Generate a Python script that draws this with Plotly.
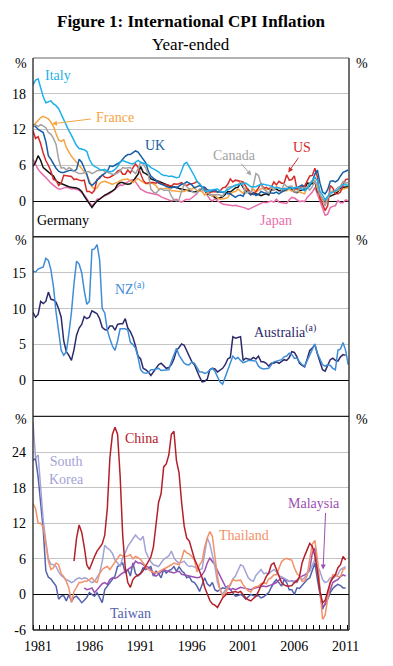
import plotly.graph_objects as go

# ---------------- data (quarterly, year-ended % change) ----------------
STEP = 0.25
START_MAIN = 1981.0

italy = [19.5, 20.3,
 20.5, 19.0, 17.5, 16.5, 16.6, 16.8, 16.3, 16.0, 15.5, 14.5, 13.5, 12.8,
 11.8, 11.0, 10.0, 9.3, 8.8, 8.7, 8.6, 8.3, 7.0, 6.2, 5.8, 5.6,
 5.3, 5.2, 5.3, 5.0, 4.9, 5.0, 5.3, 5.8, 6.5, 6.8, 6.6, 6.5,
 6.3, 6.2, 6.5, 6.8, 6.5, 6.4, 6.2, 6.0, 5.6, 5.4, 5.2, 4.9,
 4.5, 4.3, 4.3, 4.1, 4.2, 4.0, 3.9, 4.0, 5.2, 6.2, 6.5, 5.8,
 5.0, 4.2, 3.3, 2.8, 2.4, 1.7, 1.6, 1.8, 1.9, 2.0, 2.0, 1.7,
 1.5, 1.6, 1.9, 2.1, 2.5, 2.7, 2.7, 2.8, 2.9, 3.0, 2.7, 2.4,
 2.4, 2.4, 2.6, 2.8, 2.8, 2.7, 2.7, 2.5, 2.3, 2.3, 2.2, 2.0,
 2.0, 2.1, 2.1, 2.2, 2.3, 2.3, 2.2, 1.9, 1.7, 2.1, 2.9, 3.4,
 4.0, 3.4, 1.6, 1.0, 0.2, 0.8, 1.3, 1.5, 1.7, 1.9, 2.4, 2.8,
 2.7, 2.7]

france = [12.6, 13.0,
 13.5, 14.0, 14.2, 14.0, 13.8, 13.2, 12.5, 11.3, 10.2, 10.0, 10.3, 9.0,
 8.2, 7.5, 7.0, 6.5, 6.0, 5.5, 5.0, 4.4, 3.4, 2.4, 2.0, 2.2,
 2.9, 3.2, 3.3, 3.1, 2.9, 2.8, 3.0, 3.1, 3.4, 3.6, 3.6, 3.7,
 3.4, 3.1, 3.5, 3.8, 3.4, 3.2, 2.9, 2.9, 3.0, 2.9, 2.6, 2.0,
 2.1, 2.0, 2.2, 2.1, 1.7, 1.7, 1.6, 1.6, 1.6, 1.6, 1.8, 2.0,
 2.0, 2.3, 1.7, 1.7, 1.6, 1.0, 1.4, 1.2, 0.8, 1.0, 0.5, 0.3,
 0.3, 0.4, 0.6, 1.2, 1.5, 1.6, 2.0, 1.7, 1.3, 2.1, 1.6, 1.3,
 2.0, 1.5, 1.8, 2.0, 2.3, 1.8, 2.0, 2.3, 1.9, 2.4, 2.2, 2.1,
 1.7, 1.7, 2.0, 1.6, 1.8, 2.0, 1.5, 1.4, 1.2, 2.3, 3.0, 3.4,
 3.5, 2.0, 0.7, 0.1, -0.5, 0.4, 1.2, 1.7, 1.6, 1.8, 1.9, 2.1,
 2.1, 2.2]

uk = [12.8, 12.5,
 12.0, 11.7, 11.5, 10.0, 7.6, 7.0, 6.2, 5.5, 5.0, 4.8, 4.8, 5.0,
 5.1, 5.2, 5.0, 5.3, 7.0, 6.5, 5.5, 4.5, 3.0, 2.6, 3.0, 3.5,
 4.0, 4.3, 4.6, 5.0, 5.9, 5.8, 6.0, 6.2, 6.5, 7.0, 7.5, 7.8,
 7.8, 8.1, 8.4, 8.2, 7.6, 6.8, 6.4, 5.0, 4.2, 3.8, 3.5, 3.0,
 2.8, 2.6, 2.4, 2.3, 2.2, 2.4, 2.2, 2.5, 2.8, 2.9, 3.2, 3.0,
 2.7, 2.2, 2.4, 2.6, 2.4, 2.3, 1.9, 1.7, 1.6, 1.9, 1.5, 1.5,
 1.5, 1.4, 1.2, 1.2, 0.9, 0.6, 0.9, 1.0, 0.8, 1.7, 1.4, 1.0,
 1.4, 0.9, 1.1, 1.6, 1.4, 1.3, 1.4, 1.3, 1.3, 1.5, 1.2, 1.5,
 1.7, 1.9, 2.4, 2.1, 2.0, 2.2, 2.5, 2.7, 1.9, 2.1, 2.5, 3.3,
 4.5, 5.2, 3.0, 1.5, 1.2, 1.9, 3.3, 3.4, 3.2, 3.5, 4.2, 4.8,
 5.0, 5.2]

canada = [12.5, 12.8,
 12.5, 12.8, 12.6, 12.3, 11.5, 11.2, 10.5, 9.5, 7.0, 5.5, 5.6, 5.2,
 5.6, 5.4, 5.0, 4.8, 4.6, 4.6, 4.8, 4.9, 4.9, 4.6, 4.8, 5.1,
 5.1, 5.2, 5.0, 4.8, 4.7, 4.5, 4.5, 4.7, 5.1, 5.6, 5.5, 5.5,
 5.6, 5.0, 4.6, 5.4, 6.5, 6.2, 5.5, 4.5, 2.0, 1.5, 1.3, 1.8,
 2.1, 1.8, 1.8, 1.8, 0.8, 0.2, 0.0, 0.2, 1.7, 2.8, 2.4, 2.0,
 1.6, 1.4, 1.4, 2.0, 2.0, 1.6, 1.7, 1.0, 1.1, 1.0, 1.1, 1.0,
 0.8, 1.6, 2.3, 2.4, 2.4, 2.5, 2.8, 3.2, 2.6, 1.3, 1.5, 1.5,
 2.6, 4.6, 4.3, 2.8, 2.0, 1.6, 1.3, 2.4, 1.8, 2.3, 2.2, 1.8,
 2.9, 2.4, 2.5, 2.5, 1.5, 1.5, 2.0, 2.2, 2.2, 2.4, 1.8, 2.4,
 3.4, 2.6, 1.1, 0.4, -0.8, 0.5, 1.6, 1.4, 1.8, 2.3, 2.5, 3.3,
 3.0, 3.1]

us = [11.8, 10.5, 10.8, 9.6, 8.0, 6.8, 6.0, 5.0, 3.6, 3.5, 2.6, 3.0,
 4.3, 4.2, 4.2, 4.1, 3.6, 3.7, 3.5, 3.4, 3.5, 1.6, 1.6, 1.3,
 1.8, 3.6, 3.8, 4.4, 4.0, 3.9, 4.0, 4.2, 4.5, 5.0, 5.2, 4.5,
 4.5, 5.2, 4.7, 5.6, 6.2, 5.7, 4.7, 3.5, 3.0, 3.1, 3.1, 3.1,
 3.0, 3.2, 2.9, 2.8, 2.7, 2.5, 2.5, 2.9, 2.8, 2.9, 3.1, 2.7,
 2.6, 2.8, 2.9, 3.0, 3.3, 2.9, 2.3, 2.2, 1.8, 1.4, 1.6, 1.6,
 1.5, 1.7, 2.2, 2.3, 2.8, 3.7, 3.2, 3.5, 3.4, 3.3, 3.2, 2.5,
 1.9, 1.1, 1.2, 1.6, 2.2, 3.0, 2.1, 2.3, 2.0, 2.3, 3.2, 2.7,
 3.3, 3.0, 3.0, 4.4, 3.5, 3.6, 4.2, 2.0, 2.0, 2.6, 2.5, 3.5,
 4.2, 4.3, 5.5, 4.0, 0.5, -0.5, -1.6, -0.8, 2.6, 2.2, 1.2, 1.2,
 1.5, 2.7, 3.6, 3.7]

germany = [5.8, 6.5, 7.6, 6.8, 5.6, 5.2, 4.8, 4.5, 4.2, 3.4, 3.1, 2.9,
 2.8, 2.6, 2.4, 2.3, 2.3, 2.2, 2.0, 1.6, 0.8, 0.2, -0.5, -1.1,
 -0.5, 0.0, 0.3, 0.7, 1.0, 1.2, 1.4, 1.7, 2.0, 2.8, 3.1, 3.1,
 2.9, 2.8, 2.9, 3.3, 3.9, 4.5, 5.8, 4.8, 4.6, 4.3, 3.7, 3.5,
 3.4, 3.3, 3.1, 3.0, 2.8, 2.6, 2.4, 2.3, 2.3, 2.1, 2.0, 1.8,
 1.7, 1.6, 1.5, 1.5, 1.6, 1.8, 2.0, 1.8, 1.2, 1.1, 0.8, 0.6,
 0.4, 0.6, 0.7, 1.1, 1.6, 1.5, 1.9, 2.2, 2.3, 3.0, 2.3, 1.6,
 1.9, 1.2, 1.1, 1.2, 1.1, 0.9, 1.1, 1.2, 1.0, 1.9, 1.9, 2.0,
 1.7, 1.7, 2.1, 2.1, 2.0, 2.0, 1.5, 1.4, 1.7, 1.8, 2.0, 3.0,
 3.0, 2.9, 3.2, 1.6, 0.9, 0.2, -0.3, 0.6, 0.8, 1.0, 1.2, 1.6,
 2.1, 2.3, 2.4, 2.4]

japan = [7.0, 6.0, 5.3, 4.8, 4.4, 3.9, 3.5, 3.0, 2.6, 2.3, 2.0, 2.0,
 2.2, 2.3, 2.2, 2.0, 2.1, 2.0, 1.8, 1.4, 1.0, 0.4, -0.2, -0.8,
 -0.4, 0.3, 0.4, 0.6, 0.8, 1.0, 1.3, 1.6, 2.0, 2.3, 2.7, 2.6,
 3.0, 3.2, 3.5, 3.6, 3.2, 2.6, 2.0, 1.8, 1.5, 1.4, 1.3, 1.2,
 1.1, 1.0, 0.7, 0.5, 0.4, 0.2, 0.0, 0.2, 0.3, 0.0, -0.2, 0.1,
 0.3, 0.2, 0.5, 0.8, 1.2, 2.0, 2.1, 2.1, 1.0, 0.3, 0.0, 0.4,
 0.0, -0.3, -0.5, -0.6, -0.7, -0.7, -0.8, -0.7, -0.8, -0.9, -1.1, -1.2,
 -1.4, -1.2, -0.9, -0.7, -0.5, -0.4, -0.2, -0.3, -0.1, 0.0, -0.2, 0.3,
 -0.2, -0.3, -0.4, -0.4, 0.2, 0.6, 0.5, 0.2, -0.1, 0.0, -0.1, 0.6,
 1.0, 1.5, 2.3, 1.2, -0.1, -1.1, -2.4, -2.2, -1.1, -0.9, -0.8, 0.1,
 -0.3, -0.3, 0.2, 0.0]

nz = [15.2, 15.1, 15.5, 15.7, 15.8, 17.0, 16.7, 15.4, 13.0, 9.5, 7.0, 4.2,
 3.5, 4.0, 6.5, 9.5, 13.5, 16.6, 16.2, 15.0, 12.5, 10.6, 11.0, 18.2,
 18.3, 18.9, 16.8, 10.0, 9.4, 7.0, 5.8, 4.8, 4.2, 5.5, 7.2, 7.2,
 7.2, 7.0, 5.3, 5.0, 4.5, 3.2, 1.5, 1.1, 1.0, 1.1, 1.5, 1.5,
 1.6, 1.7, 1.4, 1.4, 1.5, 1.5, 2.6, 3.7, 4.5, 3.5, 3.0, 2.4,
 2.2, 2.2, 2.6, 2.4, 1.8, 1.2, 1.2, 1.0, 1.1, 1.5, 1.7, 1.3,
 0.5, -0.2, -0.5, 0.5, 1.7, 2.5, 3.4, 3.0, 3.2, 2.8, 2.5, 2.6,
 2.8, 2.8, 2.7, 2.7, 2.0, 1.7, 1.6, 1.7, 1.7, 2.2, 2.6, 2.7,
 2.8, 2.9, 3.3, 3.4, 3.8, 3.6, 3.1, 3.1, 2.6, 2.2, 2.0, 2.8,
 3.5, 4.2, 5.1, 3.8, 3.0, 2.2, 2.0, 2.2, 2.1, 1.7, 1.5, 4.2,
 4.4, 5.3, 4.2, 2.2]

australia = [9.5, 8.8, 9.2, 11.0, 10.7, 11.0, 12.3, 11.3, 11.2, 10.9, 10.0, 8.8,
 5.5, 4.0, 3.5, 2.8, 4.3, 6.3, 7.3, 7.8, 8.9, 8.6, 8.8, 9.7,
 9.5, 9.3, 8.6, 7.4, 7.1, 7.0, 7.6, 7.6, 7.0, 7.8, 7.9, 7.9,
 8.6, 7.3, 6.8, 6.0, 4.8, 3.4, 3.0, 1.7, 1.5, 1.2, 0.7, 1.2,
 1.7, 2.2, 2.4, 2.0, 1.7, 1.8, 2.2, 3.0, 4.2, 4.6, 5.1, 4.9,
 4.2, 3.3, 2.6, 2.2, 1.2, 0.5, -0.2, -0.1, 0.2, 1.5, 1.7, 1.6,
 1.2, 1.5, 1.7, 2.2, 3.0, 3.2, 6.1, 5.9, 6.0, 6.1, 2.8, 3.1,
 3.0, 2.9, 3.2, 3.0, 3.4, 2.6, 2.6, 2.4, 2.0, 2.4, 2.4, 2.6,
 2.4, 2.6, 2.9, 2.8, 3.2, 4.0, 3.9, 3.3, 2.4, 2.1, 1.9, 3.0,
 4.2, 4.5, 5.0, 3.7, 2.5, 1.5, 1.3, 2.1, 2.9, 3.1, 2.8, 2.7,
 3.3, 3.6, 3.5]

START_CHINA = 1985.0
china = [5.6, 9.5, 11.7, 10.5, 8.0, 5.0, 4.2, 5.5, 6.4, 7.3, 8.0, 8.5,
 10.0, 14.5, 23.0, 27.0, 28.2, 27.0, 20.0, 10.0, 4.5, 2.0, 1.2, 2.5,
 3.0, 3.3, 3.5, 4.0, 4.7, 5.6, 6.3, 8.0, 11.5, 15.5, 17.0, 21.5,
 22.0, 23.5, 27.0, 27.5, 22.5, 20.5, 15.5, 11.5, 9.5, 9.0, 7.5, 6.0,
 5.0, 4.0, 2.8, 1.2, 0.0, -1.0, -1.6, -1.8, -2.2, -1.5, -0.6, -0.2,
 0.3, 0.3, 0.4, 0.5, 0.3, 0.5, 0.0, -0.6, -0.9, -1.1, -0.7, -0.3,
 0.5, 1.5, 2.0, 3.0, 3.6, 5.0, 5.3, 4.2, 3.3, 2.0, 1.6, 1.4,
 1.4, 1.5, 2.0, 2.2, 3.0, 5.3, 6.5, 7.5, 8.6, 8.1, 6.5, 4.0,
 0.5, -1.4, -1.0, 0.5, 2.0, 2.8, 3.3, 4.5, 5.0, 6.4, 5.8]

south_korea = [29.0, 23.0, 23.5, 18.0, 12.5, 9.0, 6.0, 5.1, 5.0, 4.7, 3.8, 3.2,
 2.8, 2.5, 2.3, 2.0, 2.2, 2.6, 2.8, 2.6, 2.8, 2.7, 2.3, 2.0,
 2.2, 3.0, 3.6, 5.5, 8.3, 7.8, 7.5, 6.9, 5.8, 5.3, 4.7, 6.2,
 7.0, 8.1, 8.8, 9.5, 10.0, 9.5, 9.2, 9.8, 7.2, 6.3, 5.5, 5.0,
 4.8, 4.7, 5.3, 5.9, 6.2, 6.5, 7.3, 6.2, 5.6, 5.3, 5.4, 5.6,
 5.0, 4.7, 4.8, 4.6, 4.4, 4.2, 4.3, 7.0, 9.5, 8.5, 6.5, 4.7,
 2.0, 0.8, 0.0, 0.8, 1.4, 1.5, 2.6, 3.1, 4.2, 5.0, 4.8, 3.9,
 2.8, 2.4, 2.2, 3.2, 3.8, 4.2, 3.5, 3.6, 3.5, 3.8, 4.2, 3.8,
 3.1, 3.0, 2.8, 2.5, 2.2, 2.2, 2.0, 2.0, 2.8, 2.5, 2.8, 3.6,
 3.9, 5.0, 5.9, 4.8, 3.9, 2.5, 2.0, 2.2, 2.8, 2.7, 3.1, 3.4,
 4.2, 4.4, 4.7]

thailand = [15.3, 14.5, 12.0, 12.0, 11.4, 8.6, 5.6, 4.2, 4.5, 5.3, 5.0, 3.5,
 3.0, 2.2, 1.1, -1.4, 0.5, 1.2, 2.0, 2.0, 2.2, 2.2, 2.5, 2.8,
 2.2, 2.0, 3.5, 4.2, 4.5, 4.7, 4.2, 4.8, 5.3, 6.0, 6.7, 6.5,
 6.4, 6.5, 6.7, 6.0, 6.4, 6.2, 5.9, 5.3, 4.7, 4.2, 3.9, 3.7,
 3.6, 3.8, 4.1, 4.3, 4.5, 4.7, 5.0, 5.3, 5.1, 5.0, 6.0, 7.5,
 7.0, 6.8, 6.4, 5.8, 3.8, 5.0, 5.6, 8.0, 9.5, 10.6, 9.8, 6.0,
 3.0, 0.8, -0.3, 0.2, 1.0, 1.6, 2.5, 2.3, 2.4, 2.4, 1.6, 1.0,
 0.6, 0.4, 1.1, 1.3, 1.4, 1.8, 2.0, 1.8, 2.6, 2.8, 3.3, 3.3,
 4.5, 5.5, 5.9, 6.1, 5.9, 5.8, 4.5, 3.5, 3.1, 2.2, 2.3, 3.2,
 5.9, 8.5, 9.1, 6.0, 1.0, -4.2, -3.5, -1.0, 2.0, 3.3, 3.3, 3.0,
 3.0, 4.2, 4.4]

START_MALAYSIA = 1986.0
malaysia = [1.1, 0.8, 0.9, 1.1, 0.3, 0.8, 1.2, 1.8, 2.0, 1.7, 2.5, 2.8,
 2.7, 2.9, 3.3, 3.6, 3.8, 4.1, 4.4, 4.8, 5.6, 5.3, 5.3, 5.0,
 4.7, 4.6, 4.2, 3.3, 3.1, 3.4, 3.8, 4.2, 4.0, 3.9, 3.7, 3.6,
 3.8, 3.9, 3.4, 3.3, 3.2, 3.1, 3.0, 2.9, 2.8, 2.9, 3.3, 4.0,
 5.3, 6.1, 5.6, 5.0, 4.0, 3.1, 2.2, 1.4, 1.0, 0.8, 1.0, 0.8,
 1.0, 1.2, 1.1, 1.0, 0.9, 0.8, 1.0, 1.1, 1.2, 1.3, 1.4, 1.3,
 1.4, 1.6, 1.8, 2.0, 2.4, 2.8, 2.6, 2.4, 2.2, 2.3, 2.2, 2.4,
 2.8, 3.1, 3.3, 3.6, 4.2, 7.0, 7.8, 5.3, 0.5, -2.1, -1.7, -0.5,
 0.8, 2.0, 2.3, 2.5, 3.0, 3.3, 3.1]

taiwan = [22.6, 22.9, 19.8, 15.5, 10.9, 4.0, 2.9, 2.6, 2.0, 1.4, -0.8, -0.3,
 -0.2, -1.1, 0.0, -1.2, -0.5, -0.3, -0.8, -1.4, -1.0, -0.5, 0.3, 0.0,
 -0.3, 0.3, -0.5, -1.4, 0.8, 1.4, 2.0, 2.5, 3.1, 4.7, 5.0, 5.3,
 3.6, 4.2, 3.1, 5.3, 3.5, 3.1, 3.6, 4.5, 4.2, 4.5, 4.7, 3.1,
 3.9, 3.5, 2.8, 4.2, 3.6, 4.0, 4.2, 4.7, 3.9, 4.7, 4.0, 3.6,
 2.8, 3.0, 2.2, 2.0, 1.4, 0.5, 1.5, 2.8, 1.8, 1.4, 2.0, 0.8,
 0.5, 0.8, 1.1, 1.0, 1.4, 0.8, 0.3, -0.3, -0.2, 0.0, -0.3, -0.8,
 -0.4, 0.0, -0.2, -0.3, -0.2, -0.6, -0.4, 0.0, 0.3, 1.2, 2.0, 2.5,
 2.0, 1.4, 2.5, 2.0, 0.8, 0.8, 0.0, 1.1, 1.0, 1.5, 2.0, 2.5,
 2.8, 4.0, 5.3, 2.5, -0.3, -2.5, -1.5, -0.8, 0.3, 1.0, 1.4, 1.7,
 1.5, 1.1, 1.1]

year_labels = ["1981", "1986", "1991", "1996", "2001", "2006", "2011"]


def times(start, values):
    return [start + STEP * i for i in range(len(values))]


# ---------------- figure ----------------
SERIF = "Liberation Serif"
C = dict(italy="#1DB1EA", france="#F5A443", uk="#165FA6", canada="#A3A3A3",
         us="#D52A2A", germany="#111111", japan="#E96CAA", nz="#3F8DD6",
         aus="#2B2A6B", china="#B3202A", korea="#A3A3D6", thai="#F3916A",
         malay="#9B50B2", taiwan="#5462AC")

fig = go.Figure()

def add(vals, start, color, xa, ya, name):
    fig.add_trace(go.Scatter(x=times(start, vals), y=vals, mode="lines",
                             line=dict(color=color, width=1.5), name=name,
                             xaxis=xa, yaxis=ya, hoverinfo="skip"))

# panel 1
add(japan, START_MAIN, C["japan"], "x2", "y", "Japan")
add(germany, START_MAIN, C["germany"], "x2", "y", "Germany")
add(france, START_MAIN, C["france"], "x2", "y", "France")
add(us, START_MAIN, C["us"], "x2", "y", "US")
add(uk, START_MAIN, C["uk"], "x2", "y", "UK")
add(canada, START_MAIN, C["canada"], "x2", "y", "Canada")
add(italy, START_MAIN, C["italy"], "x2", "y", "Italy")
# panel 2
add(australia, START_MAIN, C["aus"], "x3", "y2", "Australia")
add(nz, START_MAIN, C["nz"], "x3", "y2", "NZ")
# panel 3
add(taiwan, START_MAIN, C["taiwan"], "x", "y3", "Taiwan")
add(malaysia, START_MALAYSIA, C["malay"], "x", "y3", "Malaysia")
add(south_korea, START_MAIN, C["korea"], "x", "y3", "South Korea")
add(thailand, START_MAIN, C["thai"], "x", "y3", "Thailand")
add(china, START_CHINA, C["china"], "x", "y3", "China")

XR = [1981.0, 2011.83]
D1 = [0.6875, 1.0]
D2 = [0.3733, 0.6875]
D3 = [0.0, 0.3733]
tickfont = dict(family=SERIF, size=14, color="black")
grid = "#C4C4C4"

def yax(domain, rng, vals, anchor):
    return dict(domain=domain, range=rng, tickvals=vals, ticktext=[str(v) for v in vals],
                showgrid=True, gridcolor=grid, gridwidth=1.3,
                zeroline=True, zerolinecolor="black", zerolinewidth=1,
                showline=False, ticks="", tickfont=tickfont, anchor=anchor,
                ticklabelstandoff=6, fixedrange=True)

def yax_r(over, rng, vals, anchor):
    return dict(overlaying=over, side="right", range=rng, tickvals=vals,
                ticktext=[str(v) for v in vals], showgrid=False, zeroline=False,
                showline=False, ticks="", tickfont=tickfont, anchor=anchor,
                ticklabelstandoff=8, fixedrange=True)

v1 = [0, 6, 12, 18]
v2 = [0, 5, 10, 15]
v3 = [-6, 0, 6, 12, 18, 24]

fig.update_layout(
    width=393, height=666,
    margin=dict(l=33, r=44, t=58, b=32),
    paper_bgcolor="white", plot_bgcolor="white",
    showlegend=False,
    font=dict(family=SERIF, color="black"),
    xaxis=dict(domain=[0, 1], range=XR, anchor="y3",
               tickvals=[1981.5, 1986.5, 1991.5, 1996.5, 2001.5, 2006.5, 2011.5],
               ticktext=year_labels, ticks="", showgrid=False, zeroline=False,
               tickfont=tickfont, ticklabelstandoff=6,
               minor=dict(ticks="inside", ticklen=5, tickcolor="black", tickwidth=1,
                          tick0=1981.0, dtick=2 / 3, showgrid=False),
               fixedrange=True),
    xaxis2=dict(domain=[0, 1], range=XR, anchor="y", matches="x", visible=False),
    xaxis3=dict(domain=[0, 1], range=XR, anchor="y2", matches="x", visible=False),
    yaxis=yax(D1, [-6, 24], v1, "x2"),
    yaxis2=yax(D2, [-5, 20], v2, "x3"),
    yaxis3=yax(D3, [-6, 30], v3, "x"),
    yaxis4=yax_r("y", [-6, 24], v1, "x2"),
    yaxis5=yax_r("y2", [-5, 20], v2, "x3"),
    yaxis6=yax_r("y3", [-6, 30], v3, "x"),
)

# frame and panel separators
shapes = [
    dict(type="line", xref="paper", yref="paper", x0=0, x1=1, y0=1, y1=1,
         line=dict(color="#9A9A9A", width=1.5)),
    dict(type="line", xref="paper", yref="paper", x0=0, x1=1, y0=D1[0], y1=D1[0],
         line=dict(color="#222222", width=1.3)),
    dict(type="line", xref="paper", yref="paper", x0=0, x1=1, y0=D2[0], y1=D2[0],
         line=dict(color="#222222", width=1.3)),
    dict(type="line", xref="paper", yref="paper", x0=0, x1=1, y0=0, y1=0,
         line=dict(color="#222222", width=1.3)),
    dict(type="line", xref="paper", yref="paper", x0=0, x1=0, y0=0, y1=1,
         line=dict(color="#222222", width=1.3)),
    dict(type="line", xref="paper", yref="paper", x0=1, x1=1, y0=0, y1=1,
         line=dict(color="#222222", width=1.3)),
]
fig.update_layout(shapes=shapes)

ann = []
# titles
ann.append(dict(text="<b>Figure 1: International CPI Inflation</b>", xref="paper", yref="paper",
                x=0.5, y=1.064, showarrow=False, font=dict(family=SERIF, size=17, color="black"),
                xanchor="center", yanchor="middle"))
ann.append(dict(text="Year-ended", xref="paper", yref="paper", x=0.5, y=1.024,
                showarrow=False, font=dict(family=SERIF, size=17, color="black"),
                xanchor="center", yanchor="middle"))
# % unit labels
for yp in [0.9905, 0.6815, 0.368]:
    ann.append(dict(text="%", xref="paper", yref="paper", x=-0.038, y=yp, showarrow=False,
                    font=tickfont, xanchor="center", yanchor="middle"))
    ann.append(dict(text="%", xref="paper", yref="paper", x=1.04, y=yp, showarrow=False,
                    font=tickfont, xanchor="center", yanchor="middle"))

def label(text, x, y, color, xa, ya):
    ann.append(dict(text=text, x=x, y=y, xref=xa, yref=ya, showarrow=False,
                    font=dict(family=SERIF, size=14, color=color),
                    xanchor="center", yanchor="middle"))

def arrow(x, y, ax, ay, color, xa, ya):
    ann.append(dict(text="", x=x, y=y, ax=ax, ay=ay, xref=xa, yref=ya, axref=xa, ayref=ya,
                    showarrow=True, arrowhead=2, arrowsize=1, arrowwidth=1, arrowcolor=color))

label("Italy", 1983.45, 21.0, C["italy"], "x2", "y")
label("France", 1989.0, 14.0, C["france"], "x2", "y")
arrow(1982.85, 12.95, 1986.8, 13.8, C["france"], "x2", "y")
label("UK", 1992.9, 9.3, C["uk"], "x2", "y")
label("Germany", 1983.9, -3.2, "black", "x2", "y")
label("Canada", 2000.7, 7.7, C["canada"], "x2", "y")
arrow(2002.3, 4.3, 2001.2, 6.5, C["canada"], "x2", "y")
label("US", 2007.25, 9.0, C["us"], "x2", "y")
arrow(2005.9, 4.8, 2007.0, 7.5, C["us"], "x2", "y")
label("Japan", 2004.7, -3.2, C["japan"], "x2", "y")

label("NZ<sup>(a)</sup>", 1990.5, 12.9, C["nz"], "x3", "y2")
label("Australia<sup>(a)</sup>", 2005.6, 6.9, C["aus"], "x3", "y2")

label("China", 1991.6, 26.3, C["china"], "x", "y3")
label("South<br>Korea", 1984.3, 20.9, C["korea"], "x", "y3")
label("Taiwan", 1990.55, -3.2, C["taiwan"], "x", "y3")
label("Thailand", 2001.6, 10.0, C["thai"], "x", "y3")
label("Malaysia", 2008.4, 15.4, C["malay"], "x", "y3")
arrow(2009.3, 4.2, 2009.55, 14.0, C["malay"], "x", "y3")

fig.update_layout(annotations=ann)
fig.write_html("out.html", config={"displayModeBar": False},
               post_script="document.body.style.margin='0';document.body.style.padding='0';")
